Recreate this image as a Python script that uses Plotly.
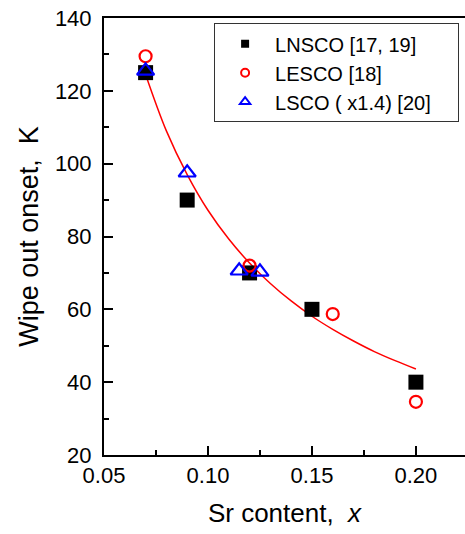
import plotly.graph_objects as go

# LNSCO [17, 19]
lnsco_x = [0.07, 0.09, 0.12, 0.15, 0.20]
lnsco_y = [125, 90, 70, 60, 40]
# LESCO [18]
lesco_x = [0.07, 0.12, 0.16, 0.20]
lesco_y = [129.5, 72, 58.7, 34.6]
# LSCO (x1.4) [20]
lsco_x = [0.07, 0.09, 0.115, 0.125]
lsco_y = [125.5, 97.5, 70.6, 70.3]
# fit curve
fit_x = [0.07, 0.08, 0.09, 0.10, 0.11, 0.12, 0.13, 0.14, 0.15, 0.16, 0.17, 0.18, 0.19, 0.20]
fit_y = [124.5, 109, 97, 87.2, 79.3, 72.7, 67.1, 62.3, 58.1, 54.5, 51.3, 48.4, 45.9, 43.6]

FONT = "Liberation Sans, Arial, sans-serif"
PAD = "\u00a0" * 4

fig = go.Figure()
fig.add_trace(go.Scatter(x=fit_x, y=fit_y, mode="lines", line=dict(color="red", width=1.5, shape="spline"),
                         showlegend=False, hoverinfo="skip"))
fig.add_trace(go.Scatter(x=lnsco_x, y=lnsco_y, mode="markers", showlegend=False,
                         marker=dict(symbol="square", size=15, color="black")))
fig.add_trace(go.Scatter(x=lesco_x, y=lesco_y, mode="markers", showlegend=False,
                         marker=dict(symbol="circle-open", size=12, color="red", line=dict(width=2.2))))
fig.add_trace(go.Scatter(x=lsco_x, y=lsco_y, mode="markers", showlegend=False,
                         marker=dict(symbol="triangle-up-open", size=15, color="blue", line=dict(width=2.2))))
# legend entries
fig.add_trace(go.Scatter(x=[None], y=[None], mode="markers", name="LNSCO [17, 19]",
                         marker=dict(symbol="square", size=8, color="black")))
fig.add_trace(go.Scatter(x=[None], y=[None], mode="markers", name="LESCO [18]",
                         marker=dict(symbol="circle-open", size=8, color="red", line=dict(width=2))))
fig.add_trace(go.Scatter(x=[None], y=[None], mode="markers", name="LSCO ( x1.4) [20]" + PAD,
                         marker=dict(symbol="triangle-up-open", size=9, color="blue", line=dict(width=2))))

fig.update_layout(
    width=465, height=534,
    margin=dict(l=104, r=0, t=18, b=79),
    paper_bgcolor="white", plot_bgcolor="white",
    font=dict(family=FONT, size=22, color="black"),
    legend=dict(x=0.305, y=0.988, xanchor="left", yanchor="top",
                bordercolor="#333", borderwidth=1, bgcolor="white",
                font=dict(size=20), tracegroupgap=0, itemwidth=50),
    xaxis=dict(range=[0.05, 0.2236], showline=True, linewidth=2, linecolor="black", mirror=True,
               ticks="inside", ticklen=9, tickwidth=1.5, tickcolor="black",
               tickvals=[0.05, 0.10, 0.15, 0.20], ticktext=["0.05", "0.10", "0.15", "0.20"],
               minor=dict(tickvals=[0.075, 0.125, 0.175], ticks="inside", ticklen=5, tickwidth=1.5, tickcolor="black"),
               showgrid=False, zeroline=False,
               title=dict(text="Sr content,  <i>x</i>", font=dict(size=26), standoff=16)),
    yaxis=dict(range=[20, 140], showline=True, linewidth=2, linecolor="black", mirror=False,
               ticks="inside", ticklen=9, tickwidth=1.5, tickcolor="black", dtick=20,
               minor=dict(dtick=10, ticks="inside", ticklen=5, tickwidth=1.5, tickcolor="black"),
               showgrid=False, zeroline=False, ticklabelstandoff=6,
               title=dict(text="Wipe out onset,  K", font=dict(size=27), standoff=8)),
)

fig.write_html("out.html")
